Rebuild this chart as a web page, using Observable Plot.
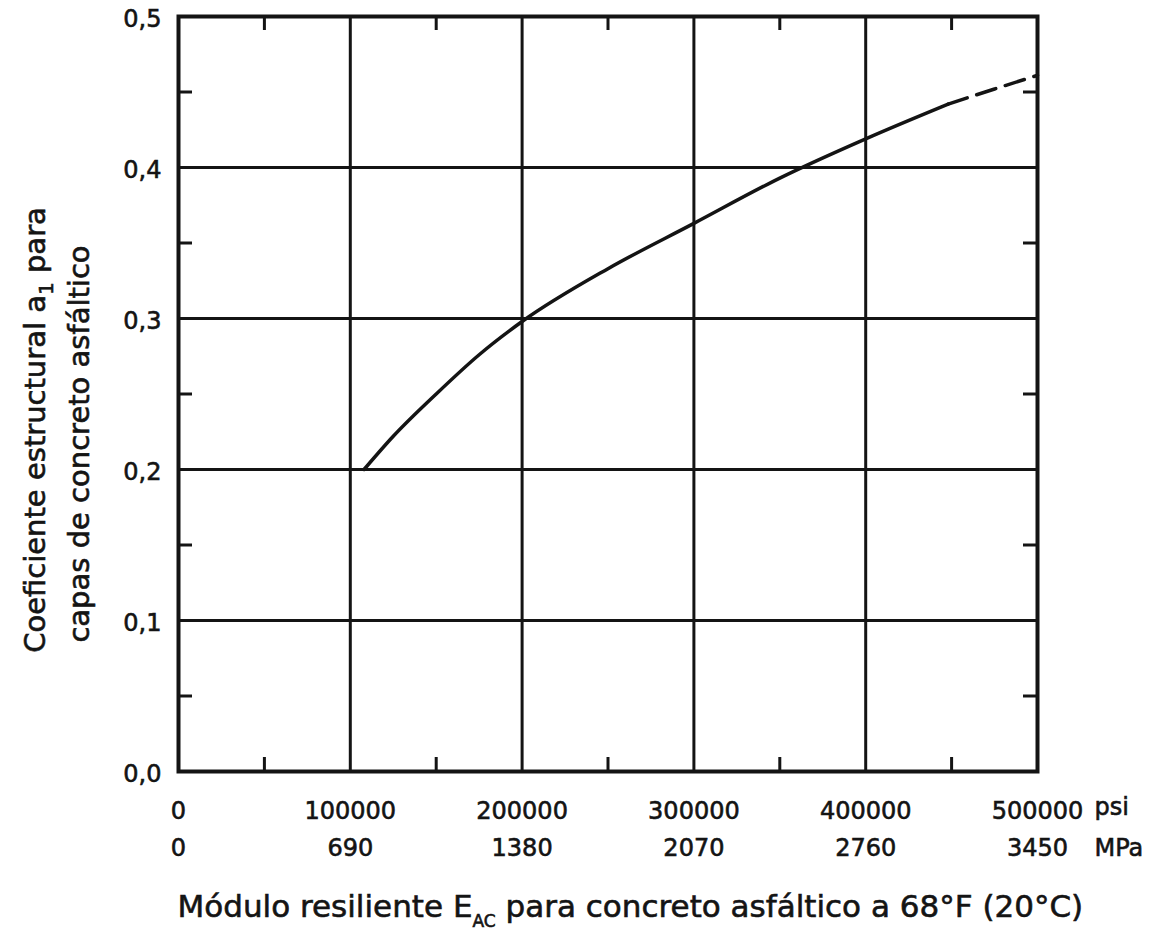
<!DOCTYPE html>
<html>
<head>
<meta charset="utf-8">
<script src="https://cdn.jsdelivr.net/npm/d3@7"></script>
<script src="https://cdn.jsdelivr.net/npm/@observablehq/plot@0.6"></script>
<style>
  html, body { margin: 0; padding: 0; background: #fff; }
  #chart svg text { stroke: #141414; stroke-width: 0.6px; }
</style>
</head>
<body>
<div id="chart"></div>
<script>
// ---- data ----
const psiTicks = [0, 100000, 200000, 300000, 400000, 500000];
const psiLabels = ["0", "100000", "200000", "300000", "400000", "500000"];
const mpaLabels = ["0", "690", "1380", "2070", "2760", "3450"];
const aTicks = [0, 0.1, 0.2, 0.3, 0.4, 0.5];
const minorE = [50000, 150000, 250000, 350000, 450000];
const minorA = [0.05, 0.15, 0.25, 0.35, 0.45];

// solid part of the curve
const curveE = [108000, 125000, 150000, 175000, 200000, 250000, 300000, 350000, 400000, 448000];
const curveA = [0.200, 0.222, 0.250, 0.276, 0.298, 0.333, 0.363, 0.393, 0.419, 0.442];
// dashed extrapolation
const dashE = [448000, 475000, 500000];
const dashA = [0.442, 0.452, 0.461];

const unitTop = "psi";
const unitBottom = "MPa";
const yTitle1 = "Coeficiente estructural a1 para";
const yTitle2 = "capas de concreto asfáltico";
const xTitleParts = ["Módulo resiliente E", "AC", " para concreto asfáltico a 68°F (20°C)"];

// ---- build ----
const solid = curveE.map((e, i) => ({e, a: curveA[i]}));
const dashed = dashE.map((e, i) => ({e, a: dashA[i]}));
const ink = "#141414";
const W = 1160, H = 945;
const mL = 178, mR = 123, mT = 16, mB = 174;
const innerH = H - mT - mB, innerW = W - mL - mR;
const tickLen = 14;
const fmtA = d => d.toFixed(1).replace(".", ",");

const chart = Plot.plot({
  width: W,
  height: H,
  marginLeft: mL,
  marginRight: mR,
  marginTop: mT,
  marginBottom: mB,
  style: {fontFamily: "'DejaVu Sans', sans-serif", fontSize: "24px", color: ink, background: "#fff"},
  x: {domain: [0, 500000], axis: null},
  y: {domain: [0, 0.5], axis: null},
  marks: [
    Plot.ruleX(psiTicks.slice(1, -1), {stroke: ink, strokeWidth: 3}),
    Plot.ruleY(aTicks.slice(1, -1), {stroke: ink, strokeWidth: 3}),
    Plot.tickX(minorE, {stroke: ink, strokeWidth: 3, insetTop: innerH - tickLen}),
    Plot.tickX(minorE, {stroke: ink, strokeWidth: 3, insetBottom: innerH - tickLen}),
    Plot.tickY(minorA, {stroke: ink, strokeWidth: 3, insetRight: innerW - tickLen}),
    Plot.tickY(minorA, {stroke: ink, strokeWidth: 3, insetLeft: innerW - tickLen}),
    Plot.line(solid, {x: "e", y: "a", stroke: ink, strokeWidth: 3.5, curve: "monotone-x"}),
    Plot.line(dashed, {x: "e", y: "a", stroke: ink, strokeWidth: 3.5, strokeDasharray: "20,10", curve: "monotone-x"}),
    Plot.frame({stroke: ink, strokeWidth: 4}),
    Plot.axisX(psiTicks, {anchor: "bottom", label: null, tickSize: 0, tickPadding: 30, fontSize: 24,
      tickFormat: d => psiLabels[psiTicks.indexOf(d)]}),
    Plot.axisX(psiTicks, {anchor: "bottom", label: null, tickSize: 0, tickPadding: 67, fontSize: 24,
      tickFormat: d => mpaLabels[psiTicks.indexOf(d)]}),
    Plot.axisY(aTicks, {anchor: "left", label: null, tickSize: 0, tickPadding: 17, fontSize: 24, dy: 3,
      tickFormat: fmtA}),
    Plot.text([{e: psiTicks[psiTicks.length - 1], t: unitTop}], {x: "e", text: "t", frameAnchor: "bottom",
      textAnchor: "start", lineAnchor: "top", dx: 57, dy: 26, fontSize: 24, fill: ink}),
    Plot.text([{e: psiTicks[psiTicks.length - 1], t: unitBottom}], {x: "e", text: "t", frameAnchor: "bottom",
      textAnchor: "start", lineAnchor: "top", dx: 57, dy: 67, fontSize: 24, fill: ink}),
    Plot.text([yTitle1], {frameAnchor: "left", textAnchor: "middle", lineAnchor: "middle", rotate: -90,
      dx: -143, dy: 36, fontSize: 29, fill: ink}),
    Plot.text([yTitle2], {frameAnchor: "left", textAnchor: "middle", lineAnchor: "middle", rotate: -90,
      dx: -99, dy: 50, fontSize: 29, fill: ink}),
    Plot.text([xTitleParts.join("")], {frameAnchor: "bottom-left", textAnchor: "start", lineAnchor: "middle",
      dx: -1, dy: 136, fontSize: 31, fill: ink})
  ]
});

// subscripts as real text (tspans)
chart.querySelectorAll("text").forEach(t => {
  const s = t.textContent;
  const ns = "http://www.w3.org/2000/svg";
  if (s === yTitle1) {
    t.textContent = "";
    const a = document.createElementNS(ns, "tspan"); a.textContent = "Coeficiente estructural a";
    const b = document.createElementNS(ns, "tspan"); b.textContent = "1"; b.setAttribute("font-size", "20"); b.setAttribute("dy", "8");
    const c = document.createElementNS(ns, "tspan"); c.textContent = " para"; c.setAttribute("dy", "-8");
    t.append(a, b, c);
  } else if (s === xTitleParts.join("")) {
    t.textContent = "";
    const a = document.createElementNS(ns, "tspan"); a.textContent = xTitleParts[0];
    const b = document.createElementNS(ns, "tspan"); b.textContent = xTitleParts[1]; b.setAttribute("font-size", "17"); b.setAttribute("dy", "10");
    const c = document.createElementNS(ns, "tspan"); c.textContent = xTitleParts[2]; c.setAttribute("dy", "-10");
    t.append(a, b, c);
  }
});

document.getElementById("chart").append(chart);
</script>
</body>
</html>
